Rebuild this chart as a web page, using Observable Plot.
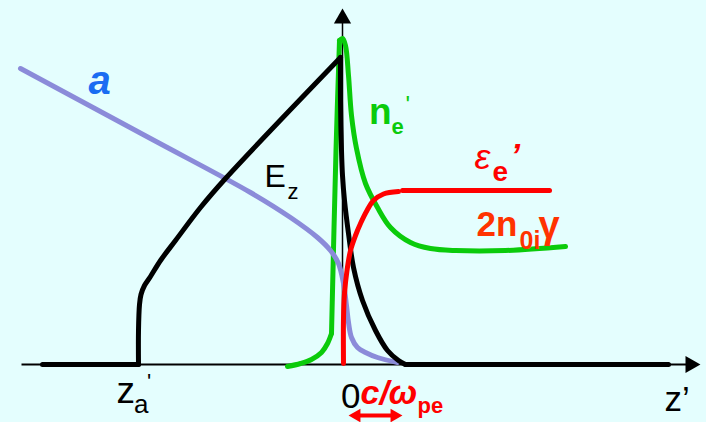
<!DOCTYPE html>
<html>
<head>
<meta charset="utf-8">
<script src="https://cdn.jsdelivr.net/npm/d3@7"></script>
<script src="https://cdn.jsdelivr.net/npm/@observablehq/plot@0.6"></script>
<style>
  html, body { margin: 0; padding: 0; background: #e4fefe; }
  svg { display: block; }
</style>
</head>
<body>
<script>
// Field and density profiles in the co-moving frame z' (origin at the front, z' = 0).

// Accelerating field E_z (black), drawn in pieces so its corners stay sharp
const ezZ = [-300, -204,
  -204, -204, -203, -201.5, -198, -192, -182, -167, -142, -117, -2,
  -2, -2, -1, 0, 2, 6, 11, 20, 33, 45, 56, 63,
  63, 326];
const ezV = [0, 0,
  0, 34, 60, 70, 79, 88, 104, 124, 157, 186, 307,
  307, 264, 214, 189, 164, 131, 97, 64, 34, 14, 4, 0,
  0, 0];
const ezPiece = ["left", "left",
  "rise", "rise", "rise", "rise", "rise", "rise", "rise", "rise", "rise", "rise", "rise",
  "fall", "fall", "fall", "fall", "fall", "fall", "fall", "fall", "fall", "fall", "fall", "fall",
  "right", "right"];

// Laser amplitude a (lavender)
const aZ = [-322, -192, -92, -52, -25, -12, -4, 1, 4, 6, 9, 15, 23, 35, 55];
const aV = [296, 226, 172, 147, 127, 114, 101, 81, 59, 42, 27, 17, 12, 7, 2];

// Electron density n_e' (green)
const neZ = [-55, -42, -31, -21, -15, -11,
  -11, -6.5, -3,
  -3, 0, 3, 6, 9, 14, 23, 35, 48, 68, 88, 113, 163, 223];
const neV = [-2, 1, 5, 12, 21, 31,
  31, 214, 324,
  324, 326, 319, 289, 249, 216, 181, 157, 137, 122, 116, 114, 114, 118];
const nePiece = ["foot", "foot", "foot", "foot", "foot", "foot",
  "spike", "spike", "spike",
  "tail", "tail", "tail", "tail", "tail", "tail", "tail", "tail", "tail", "tail", "tail", "tail", "tail", "tail"];

// Electron energy ε_e' (red): rising edge, then the plateau at 2 n0i γ
const epsZ = [1, 1, 2, 4.5, 8, 13, 18, 24.5, 31, 41, 56,
  60, 207];
const epsV = [1, 46, 71, 94, 114, 129, 141, 154, 164, 170.5, 173,
  174, 174];
const epsPiece = ["edge", "edge", "edge", "edge", "edge", "edge", "edge", "edge", "edge", "edge", "edge",
  "plateau", "plateau"];

// Axis extents (z' axis and vertical axis, up to the arrow tips)
const zAxis = [-321, 358];
const vAxis = [0, 356];

// Skin depth c/ω_pe marked below the axis
const skinDepth = [6, 60];

// Annotation texts and their anchor points (baseline, left)
const annText = ["a", "E", "z", "n", "e", "'", "ε", "e", "’", "2n", "0i", "γ",
  "z", "a", "'", "0", "c/ω", "pe", "z’"];
const annZ = [-254, -78, -55, 26.5, 49, 63, 132, 150, 168, 134, 177, 196,
  -226, -208.5, -195.5, -1.5, 18, 75, 322];
const annV = [271, 178, 166, 241, 231, 251.5, 196, 184, 198, 129, 116, 127,
  -38, -48, -24, -43, -39, -48, -46];

const FONT = "'Liberation Sans', Arial, sans-serif";
const idx = (arr) => d3.range(arr.length);

function label(i, opts) {
  return Plot.text([i], {
    x: (j) => annZ[j], y: (j) => annV[j], text: (j) => annText[j],
    textAnchor: "start", lineAnchor: "bottom", fontFamily: FONT, ...opts
  });
}

function head(z, v, rotate, r, fill) {
  return Plot.dot([0], {x: () => z, y: () => v, symbol: "triangle", r, rotate, fill, stroke: "none"});
}

const chart = Plot.plot({
  width: 706,
  height: 422,
  margin: 0,
  x: {domain: [-342, 364], axis: null},
  y: {domain: [-58, 364], axis: null},
  style: {background: "#e4fefe", overflow: "visible"},
  marks: [
    // axes
    Plot.link([0], {x1: () => zAxis[0], x2: () => zAxis[1] - 10, y1: 0, y2: 0, stroke: "black", strokeWidth: 2}),
    head(zAxis[1] - 10, 0, 90, 6.4, "black"),
    Plot.link([0], {x1: 0, x2: 0, y1: () => vAxis[0], y2: () => vAxis[1] - 10, stroke: "black", strokeWidth: 1.5}),
    head(0, vAxis[1] - 10, 0, 6.4, "black"),

    // n_e'
    Plot.line(idx(neZ), {x: (i) => neZ[i], y: (i) => neV[i], z: (i) => nePiece[i],
      curve: "catmull-rom", stroke: "#0bcb0b", strokeWidth: 5, strokeLinecap: "round", strokeLinejoin: "round"}),
    // a
    Plot.line(idx(aZ), {x: (i) => aZ[i], y: (i) => aV[i],
      curve: "catmull-rom", stroke: "#8b8bd9", strokeWidth: 5, strokeLinejoin: "round"}),
    // E_z
    Plot.line(idx(ezZ), {x: (i) => ezZ[i], y: (i) => ezV[i], z: (i) => ezPiece[i],
      curve: "catmull-rom", stroke: "black", strokeWidth: 5, strokeLinecap: "round", strokeLinejoin: "round"}),
    // ε_e'
    Plot.line(idx(epsZ), {x: (i) => epsZ[i], y: (i) => epsV[i], z: (i) => epsPiece[i],
      curve: "catmull-rom", stroke: "#ff0000", strokeWidth: 5, strokeLinejoin: "round"}),

    // c/ω_pe double arrow
    Plot.link([0], {x1: () => skinDepth[0] + 8, x2: () => skinDepth[1] - 8, y1: -51, y2: -51, stroke: "#ff0000", strokeWidth: 4}),
    head(skinDepth[0] + 8, -51, -90, 5.1, "#ff0000"),
    head(skinDepth[1] - 8, -51, 90, 5.1, "#ff0000"),

    // labels
    label(0, {fontSize: 40, fontWeight: "bold", fontStyle: "italic", fill: "#1a6cf2"}),
    label(1, {fontSize: 32, fill: "black"}),
    label(2, {fontSize: 22, fill: "black"}),
    label(3, {fontSize: 37, fontWeight: "bold", fill: "#0bcb0b"}),
    label(4, {fontSize: 22, fontWeight: "bold", fill: "#0bcb0b"}),
    label(5, {fontSize: 24, fill: "#0bcb0b"}),
    label(6, {fontSize: 36, fontStyle: "italic", fill: "#ff0000"}),
    label(7, {fontSize: 28, fontWeight: "bold", fill: "#ff0000"}),
    label(8, {fontSize: 34, fontWeight: "bold", fontStyle: "italic", fill: "#ff0000"}),
    label(9, {fontSize: 35, fontWeight: "bold", fill: "#ff3300"}),
    label(10, {fontSize: 25, fontWeight: "bold", fill: "#ff3300"}),
    label(11, {fontSize: 38, fontWeight: "bold", fill: "#ff3300"}),
    label(12, {fontSize: 37, fill: "black"}),
    label(13, {fontSize: 26, fill: "black"}),
    label(14, {fontSize: 22, fill: "black"}),
    label(15, {fontSize: 35, fill: "black"}),
    label(16, {fontSize: 34, fontWeight: "bold", fontStyle: "italic", fill: "#ff0000"}),
    label(17, {fontSize: 22, fontWeight: "bold", fill: "#ff0000"}),
    label(18, {fontSize: 35, fill: "black"})
  ]
});

document.body.appendChild(chart);
</script>
</body>
</html>
